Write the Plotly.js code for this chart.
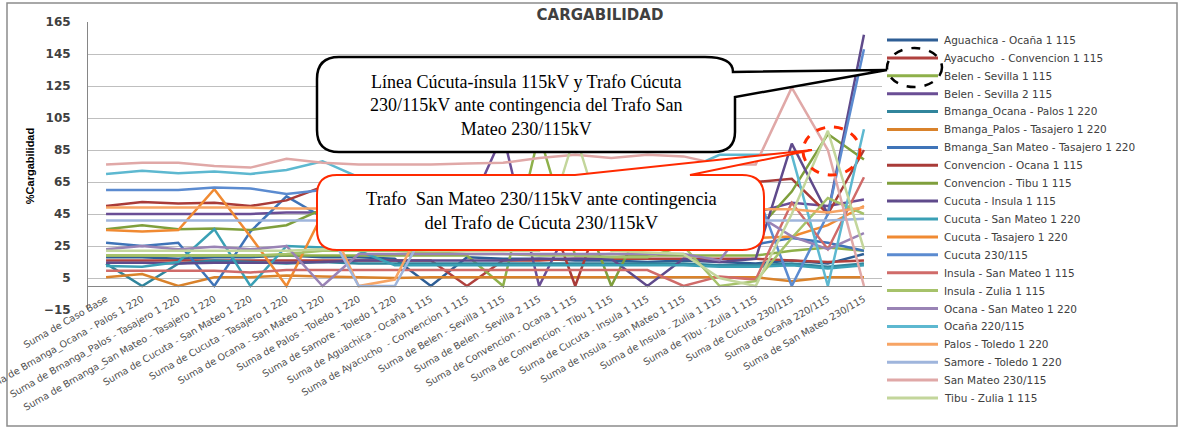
<!DOCTYPE html>
<html>
<head>
<meta charset="utf-8">
<script src="https://cdn.plot.ly/plotly-3.0.1.min.js"></script>
<style>
html,body{margin:0;padding:0;background:#fff;}
#chart{width:1181px;height:429px;}
</style>
</head>
<body>
<div id="chart"></div>
<script>
// ---------- DATA ----------
const categories = [
  "Suma de Caso Base",
  "Suma de Bmanga_Ocana - Palos 1 220",
  "Suma de Bmanga_Palos - Tasajero 1 220",
  "Suma de Bmanga_San Mateo - Tasajero 1 220",
  "Suma de Cucuta - San Mateo 1 220",
  "Suma de Cucuta - Tasajero 1 220",
  "Suma de Ocana - San Mateo 1 220",
  "Suma de Palos - Toledo 1 220",
  "Suma de Samore - Toledo 1 220",
  "Suma de Aguachica - Ocaña 1 115",
  "Suma de Ayacucho  - Convencion 1 115",
  "Suma de Belen - Sevilla 1 115",
  "Suma de Belen - Sevilla 2 115",
  "Suma de Convencion - Ocana 1 115",
  "Suma de Convencion - Tibu 1 115",
  "Suma de Cucuta - Insula 1 115",
  "Suma de Insula - San Mateo 1 115",
  "Suma de Insula - Zulia 1 115",
  "Suma de Tibu - Zulia 1 115",
  "Suma de Cucuta 230/115",
  "Suma de Ocaña 220/115",
  "Suma de San Mateo 230/115"
];

const aguachicaOcana        = [18,18,17,18,18,19,18,18,17,0,18,17,17,16,16,15,16,15,14,16,14,20];
const ayacuchoConvencion    = [16,16,16,16,16,16,16,16,16,16,0,16,16,17,17,17,17,17,17,16,15,16];
const belenSevilla1         = [19,19,19,19,19,19,19,19,19,19,19,0,95,19,20,19,19,19,19,22,24,22];
const belenSevilla2         = [45,45,45,45,45,46,46,45,45,45,45,95,0,45,45,45,45,46,46,52,50,54];
const bmangaOcanaPalos      = [14,0,14,16,15,14,15,14,14,14,14,14,14,14,14,14,14,13,13,14,12,14];
const bmangaPalosTasajero   = [5.5,7.5,0,5.5,5.5,6.5,6,5.5,5,5.5,5.5,5.5,5.5,5.5,5.5,5.5,5.5,5.5,5.5,3,5.5,5.5];
const bmangaSanMateoTasajero= [27,25,27,0,34,56,43,27,27,27,27,27,26,26,26,26,26,26,26,30,27,22];
const convencionOcana       = [50,52.5,51.5,52,50,53.5,62,63,63,63,63,63,63,0,63,63,63,64,65,67,45,85];
const convencionTibu        = [35.5,38,35.5,36,35,38,48,45,45,45,45,45,45,60,0,45,45,40,34,59,95,79];
const cucutaInsula          = [14.5,14.5,14,14.5,14.5,14.5,15,16,16,16,16,16,17,17,17,0,17,15,17,89,45,157];
const cucutaSanMateo        = [12.5,12,15,35.5,0,25,24,22,13,13,13,13,13,13,13,13,13,12,12,13,11,13];
const cucutaTasajero        = [35,34,35,60.5,31,0,45,48,48,48,48,48,48,48,48,48,48,45,30,31,38,50];
const cucutaTrafo           = [60,60,60,61.5,61,57.5,60,58,58,58,58,58,58,58,58,58,58,58,60,0,45,148];
const insulaSanMateo        = [9.5,9.5,9.5,9.5,8.5,10,10,10,10,10,10,10,10,10,10,10,0,6,4,52,23,68];
const insulaZulia           = [19,19,19,19,19,20,22,22,22,21,20,20,19,19,18,18,25,0,3,30,55,45];
const ocanaSanMateo         = [23,25,23,24.5,23,25,0,20,20,20,20,20,20,20,20,20,20,16,45,31,23,33];
const ocanaTrafo            = [70,72,70.5,71.5,70,72.5,78,68,66,66,66,66,66,66,66,66,72,82,82,82,0,98];
const palosToledo           = [49,49,49,49,49,48.5,48.5,0,4,48,48,48,48,48,48,48,48,48,48,48,46,49];
const samoreToledo          = [41,41,41,41,41,41,41,0,0,41,41,41,41,41,41,41,41,41,41,41,41,42];
const sanMateoTrafo         = [76,77,77,75,74,79.5,77,76,76,76,76.5,77,80,82,80,82,81,76,76,124,85,0];
const tibuZulia             = [22,22,22,22,22,22,23,23,23,22,22,22,22,95,22,21,20,5,0,45,97,23];

const seriesNames = [
  "Aguachica - Ocaña 1 115",
  "Ayacucho  - Convencion 1 115",
  "Belen - Sevilla 1 115",
  "Belen - Sevilla 2 115",
  "Bmanga_Ocana - Palos 1 220",
  "Bmanga_Palos - Tasajero 1 220",
  "Bmanga_San Mateo - Tasajero 1 220",
  "Convencion - Ocana 1 115",
  "Convencion - Tibu 1 115",
  "Cucuta - Insula 1 115",
  "Cucuta - San Mateo 1 220",
  "Cucuta - Tasajero 1 220",
  "Cucuta 230/115",
  "Insula - San Mateo 1 115",
  "Insula - Zulia 1 115",
  "Ocana - San Mateo 1 220",
  "Ocaña 220/115",
  "Palos - Toledo 1 220",
  "Samore - Toledo 1 220",
  "San Mateo 230/115",
  "Tibu - Zulia 1 115"
];
const seriesValues = [
  aguachicaOcana, ayacuchoConvencion, belenSevilla1, belenSevilla2,
  bmangaOcanaPalos, bmangaPalosTasajero, bmangaSanMateoTasajero,
  convencionOcana, convencionTibu, cucutaInsula, cucutaSanMateo,
  cucutaTasajero, cucutaTrafo, insulaSanMateo, insulaZulia,
  ocanaSanMateo, ocanaTrafo, palosToledo, samoreToledo,
  sanMateoTrafo, tibuZulia
];

// ---------- STYLE ----------
const seriesColors = [
  "#2E5E95","#B0413E","#8EB04A","#6A4E95","#31859C","#D9822B","#3F74B8",
  "#A93B38","#7F9F3C","#5F4A8B","#3AA0B5","#F08A32","#5B8BD0","#D06B69",
  "#A6C26A","#9983B5","#5DB8D0","#F7A464","#9FB5DC","#E0A8A7","#C3D69B"
];

const L = 88, R = 882, T = 22, B = 310;
const px = x => (x - L) / (R - L);
const py = y => (B - y) / (B - T);
function pathOf(tokens) {
  return tokens.map(t => typeof t === 'string' ? t : px(t[0]).toFixed(5) + ',' + py(t[1]).toFixed(5)).join(' ');
}

const traces = seriesValues.map((vals, i) => ({
  type: 'scatter', mode: 'lines', name: seriesNames[i],
  x: categories, y: vals,
  line: {color: seriesColors[i], width: 2.5},
  hoverinfo: 'skip', showlegend: false
}));

const shapes = [];
const annotations = [];

// outer border
shapes.push({type:'rect', xref:'paper', yref:'paper', x0:px(7), x1:px(1177), y0:py(3), y1:py(426),
  line:{color:'#8C8C8C', width:1.5}, fillcolor:'rgba(0,0,0,0)', layer:'below'});

// custom legend built from names/colors
seriesNames.forEach((nm, i) => {
  const yy = 40 + i * 17.9;
  shapes.push({type:'line', xref:'paper', yref:'paper', x0:px(887), x1:px(938), y0:py(yy), y1:py(yy),
    line:{color:seriesColors[i], width:3}});
  annotations.push({xref:'paper', yref:'paper', x:px(942), y:py(yy), xanchor:'left', yanchor:'middle',
    text:nm, showarrow:false, font:{family:'DejaVu Sans', size:10.5, color:'#404040'}});
});

// black callout
shapes.push({type:'path', xref:'paper', yref:'paper', layer:'above',
  path: pathOf(['M',[339,57],'L',[705,57],'Q',[733,57],[733,72],'L',[887,70],'L',[735,97],
    'L',[735,132],'Q',[735,152],[713,152],'L',[339,152],'Q',[317,152],[317,130],
    'L',[317,79],'Q',[317,57],[339,57],'Z']),
  fillcolor:'#FFFFFF', line:{color:'#000000', width:2.5}});
// red callout
shapes.push({type:'path', xref:'paper', yref:'paper', layer:'above',
  path: pathOf(['M',[337,175],'L',[575,175],'L',[812,150],'L',[690,175],'L',[742,175],
    'Q',[764,175],[764,197],'L',[764,230],'Q',[764,250],[742,250],'L',[337,250],
    'Q',[317,250],[317,230],'L',[317,195],'Q',[317,175],[337,175],'Z']),
  fillcolor:'#FFFFFF', line:{color:'#FF2A00', width:2}});
// dashed ellipses
shapes.push({type:'circle', xref:'paper', yref:'paper', layer:'above',
  x0:px(887), x1:px(942), y0:py(87), y1:py(48),
  line:{color:'#000000', width:2.5, dash:'dash'}, fillcolor:'rgba(0,0,0,0)'});
shapes.push({type:'circle', xref:'paper', yref:'paper', layer:'above',
  x0:px(803), x1:px(860), y0:py(175), y1:py(127),
  line:{color:'#FF2A00', width:3, dash:'dash'}, fillcolor:'rgba(0,0,0,0)'});

// callout texts
annotations.push({xref:'paper', yref:'paper', x:px(526), y:py(105), xanchor:'center', yanchor:'middle',
  text:'Línea Cúcuta-ínsula 115kV y Trafo Cúcuta<br>230/115kV ante contingencia del Trafo San<br>Mateo 230/115kV',
  showarrow:false, align:'center', font:{family:'Liberation Serif', size:18, color:'#000000'}});
annotations.push({xref:'paper', yref:'paper', x:px(541), y:py(211), xanchor:'center', yanchor:'middle',
  text:'Trafo  San Mateo 230/115kV ante contingencia<br>del Trafo de Cúcuta 230/115kV',
  showarrow:false, align:'center', font:{family:'Liberation Serif', size:18.5, color:'#000000'}});

const layout = {
  width: 1181, height: 429,
  margin: {l: L, r: 1181 - R, t: T, b: 429 - B, pad: 0},
  paper_bgcolor: '#FFFFFF', plot_bgcolor: '#FFFFFF',
  showlegend: false,
  title: {text: '<b>CARGABILIDAD</b>', x: 600/1181, xanchor: 'center', y: 1 - 15/429, yanchor: 'middle',
    font: {family: 'DejaVu Sans', size: 15, color: '#404040'}},
  xaxis: {
    type: 'category', range: [-0.5, 21.5], anchor: 'free', position: 15/180,
    showline: true, linecolor: '#868686', linewidth: 1, showgrid: false, zeroline: false,
    ticks: '', tickangle: -30, automargin: false, ticklabelstandoff: 3,
    tickfont: {family: 'DejaVu Sans', size: 9.6, color: '#505050'}
  },
  yaxis: {
    range: [-15, 165], tickmode: 'linear', tick0: -15, dtick: 20,
    showgrid: true, gridcolor: '#BFBFBF', gridwidth: 1, zeroline: false,
    showline: true, linecolor: '#868686', linewidth: 1, ticks: '', ticklabelstandoff: 14,
    automargin: false,
    tickfont: {family: 'DejaVu Sans', size: 12, color: '#404040', weight: 'bold'},
    title: {text: '<b>%Cargabilidad</b>', standoff: 6,
      font: {family: 'Liberation Sans', size: 11, color: '#000000'}}
  },
  shapes: shapes,
  annotations: annotations
};

Plotly.newPlot('chart', traces, layout, {displayModeBar: false, staticPlot: true});
</script>
</body>
</html>
